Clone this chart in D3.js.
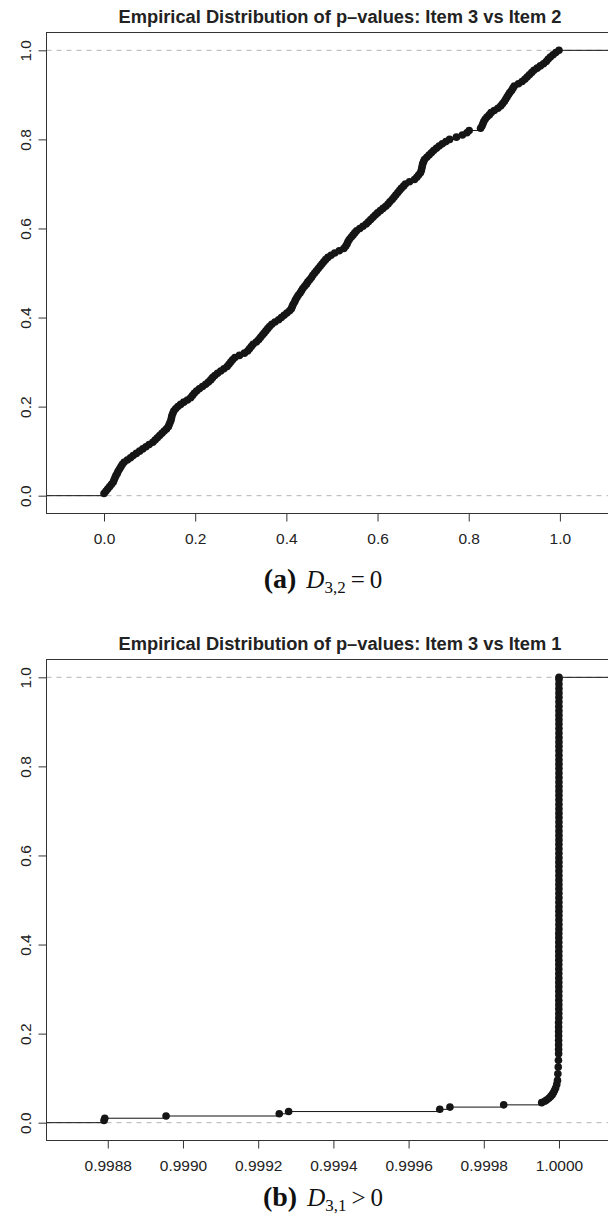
<!DOCTYPE html>
<html><head><meta charset="utf-8">
<script src="https://cdn.jsdelivr.net/npm/d3@7"></script>
<style>body{margin:0;background:#fff} svg{display:block}</style>
</head><body>
<svg id="chart" width="608" height="1222"></svg>
<script>
// ---------- data ----------
const yTicks = [0, 0.2, 0.4, 0.6, 0.8, 1.0];
const xTicks32 = [0, 0.2, 0.4, 0.6, 0.8, 1.0];
const xTicks31 = [0.9988, 0.9990, 0.9992, 0.9994, 0.9996, 0.9998, 1.0000];
const titles = ["Empirical Distribution of p\u2013values: Item 3 vs Item 2",
                "Empirical Distribution of p\u2013values: Item 3 vs Item 1"];
const captionLabels = ["(a)", "(b)"];
const captionSubs = ["3,2", "3,1"];
const captionRels = ["\u2009=\u20090", "\u2009>\u20090"];

// sorted p-values, Item 3 vs Item 2 (ECDF heights k/n)
const p32 = [0.000,0.004,0.008,0.012,0.016,0.020,0.022,0.024,0.026,0.029,
  0.031,0.034,0.037,0.040,0.044,0.051,0.058,0.064,0.071,0.078,
  0.085,0.092,0.099,0.107,0.112,0.117,0.122,0.127,0.132,0.137,
  0.141,0.143,0.145,0.147,0.148,0.149,0.151,0.153,0.157,0.162,
  0.168,0.175,0.183,0.190,0.194,0.198,0.203,0.209,0.216,0.223,
  0.229,0.234,0.238,0.243,0.249,0.256,0.263,0.270,0.274,0.278,
  0.282,0.287,0.297,0.308,0.315,0.319,0.323,0.327,0.334,0.339,
  0.343,0.347,0.351,0.355,0.359,0.363,0.368,0.375,0.383,0.389,
  0.395,0.401,0.407,0.411,0.413,0.415,0.418,0.420,0.423,0.426,
  0.430,0.433,0.436,0.440,0.444,0.447,0.451,0.455,0.458,0.462,
  0.466,0.470,0.474,0.478,0.482,0.486,0.491,0.498,0.506,0.516,
  0.526,0.530,0.533,0.535,0.538,0.542,0.546,0.550,0.554,0.561,
  0.568,0.575,0.580,0.585,0.590,0.595,0.600,0.606,0.612,0.618,
  0.623,0.627,0.632,0.636,0.640,0.644,0.648,0.652,0.657,0.661,
  0.670,0.681,0.686,0.690,0.694,0.696,0.697,0.698,0.699,0.701,
  0.703,0.708,0.713,0.718,0.723,0.729,0.735,0.742,0.750,0.758,
  0.773,0.786,0.796,0.801,0.826,0.829,0.831,0.833,0.836,0.840,
  0.845,0.849,0.856,0.864,0.870,0.874,0.878,0.881,0.884,0.887,
  0.890,0.894,0.897,0.900,0.909,0.917,0.923,0.928,0.933,0.938,
  0.943,0.950,0.957,0.964,0.970,0.974,0.979,0.985,0.991,0.998];

// sorted p-values and ECDF heights, Item 3 vs Item 1
const p31 = [0.998790,0.998792,0.998955,0.999256,0.999281,0.999683,0.999710,0.999853,0.999954,0.999962,
  0.999967,0.999973,0.999978,0.999982,0.999985,0.999988,0.999991,0.999994,0.999996,0.999997,
  0.999998,0.9999985,0.999999,0.999999,0.999999,0.999999,0.999999,0.999999,0.999999,0.999999,
  0.9999995,0.9999995,0.9999995,0.9999995,0.9999995,0.9999995,0.9999995,0.9999995,0.9999995,0.9999995,
  0.9999995,0.9999995,0.9999995,0.9999995,0.9999995,0.9999995,0.9999995,0.9999995,0.9999995,0.9999995,
  0.9999998,0.9999998,0.9999998,0.9999998,0.9999998,0.9999998,0.9999998,0.9999998,0.9999998,0.9999998,
  0.9999998,0.9999998,0.9999998,0.9999998,0.9999998,0.9999998,0.9999998,0.9999998,0.9999998,0.9999998,
  0.9999999,0.9999999,0.9999999,0.9999999,0.9999999,0.9999999,0.9999999,0.9999999,0.9999999,0.9999999,
  0.9999999,0.9999999,0.9999999,0.9999999,0.9999999,0.9999999,0.9999999,0.9999999,0.9999999,0.9999999,
  0.9999999,0.9999999,0.9999999,0.9999999,0.9999999,0.9999999,0.9999999,0.9999999,0.9999999,0.9999999,
  0.9999999,0.9999999,0.9999999,0.9999999,0.9999999,0.9999999,0.9999999,1.0000000];
const F31 = [0.005,0.010,0.015,0.020,0.025,0.030,0.035,0.040,0.045,0.048,
  0.051,0.055,0.059,0.063,0.067,0.072,0.078,0.086,0.095,0.110,
  0.125,0.140,0.155,0.165,0.175,0.185,0.195,0.205,0.215,0.225,
  0.235,0.245,0.255,0.265,0.275,0.285,0.295,0.305,0.315,0.325,
  0.335,0.345,0.355,0.365,0.375,0.385,0.395,0.405,0.415,0.425,
  0.435,0.445,0.455,0.465,0.475,0.485,0.495,0.505,0.515,0.525,
  0.535,0.545,0.555,0.565,0.575,0.585,0.595,0.605,0.615,0.625,
  0.635,0.645,0.655,0.665,0.675,0.685,0.695,0.705,0.715,0.725,
  0.735,0.745,0.755,0.765,0.775,0.785,0.795,0.805,0.815,0.825,
  0.835,0.845,0.855,0.865,0.875,0.885,0.895,0.905,0.915,0.925,
  0.935,0.945,0.955,0.965,0.975,0.985,0.995,1.000];

// ---------- drawing ----------
const svg = d3.select("#chart");
const L = 46.5, R = 616.5, T = 32.5, B = 513.5;
const panelOffsets = [0, 627];
const captionY = [588, 579];
const SANS = "'Liberation Sans', Arial, Helvetica, sans-serif";
const SERIF = "'Liberation Serif', 'Times New Roman', serif";

function ecdfExtent(xs) {
  const lo = d3.min(xs), hi = d3.max(xs);
  const diffs = [];
  for (let i = 1; i < xs.length; i++) diffs.push(xs[i] - xs[i-1]);
  const dr = Math.max(0.08 * (hi - lo), d3.median(diffs));
  const a = lo - dr, b = hi + dr, e = 0.04 * (b - a);
  return [a - e, b + e];
}

function drawPanel(idx, xs, ys, xTicks, fmt) {
  const g = svg.append("g").attr("transform", `translate(0,${panelOffsets[idx]})`);
  const x = d3.scaleLinear().domain(ecdfExtent(xs)).range([L, R]);
  const y = d3.scaleLinear().domain([-0.04, 1.04]).range([B, T]);
  const clipId = "clip" + idx;
  g.append("clipPath").attr("id", clipId).append("rect")
    .attr("x", L).attr("y", T).attr("width", R - L).attr("height", B - T);
  const plot = g.append("g").attr("clip-path", `url(#${clipId})`);

  // reference lines
  plot.selectAll("line.ref").data([0, 1]).join("line").attr("class", "ref")
    .attr("x1", L).attr("x2", R).attr("y1", d => y(d)).attr("y2", d => y(d))
    .attr("stroke", "#b3b3b3").attr("stroke-width", 1).attr("stroke-dasharray", "5,5");

  // step segments
  const xmin = x.domain()[0], xmax = x.domain()[1];
  const segs = [];
  segs.push({x1: xmin, x2: xs[0], y: 0});
  for (let i = 0; i < xs.length; i++) {
    segs.push({x1: xs[i], x2: i + 1 < xs.length ? xs[i+1] : xmax, y: ys[i]});
  }
  plot.selectAll("line.step").data(segs).join("line").attr("class", "step")
    .attr("x1", d => x(d.x1)).attr("x2", d => x(d.x2))
    .attr("y1", d => y(d.y)).attr("y2", d => y(d.y))
    .attr("stroke", "#111").attr("stroke-width", 1);

  // points
  plot.selectAll("circle").data(xs.map((v, i) => [v, ys[i]])).join("circle")
    .attr("cx", d => x(d[0])).attr("cy", d => y(d[1])).attr("r", 3.8)
    .attr("fill", "#151515");

  // box
  g.append("rect").attr("x", L).attr("y", T).attr("width", R - L).attr("height", B - T)
    .attr("fill", "none").attr("stroke", "#333").attr("stroke-width", 1);

  // y axis
  const ya = g.append("g").attr("transform", `translate(${L},0)`)
    .call(d3.axisLeft(y).tickValues(yTicks).tickFormat(d3.format(".1f")).tickSizeOuter(0).tickSize(8).tickPadding(0));
  ya.select(".domain").remove();
  ya.selectAll(".tick line").attr("stroke", "#333");
  ya.selectAll(".tick text").attr("font-family", SANS).attr("font-size", 15.5).attr("fill", "#222")
    .attr("x", 0).attr("dy", 0)
    .attr("transform", "translate(-21,0) rotate(-90)")
    .attr("text-anchor", "middle").attr("dominant-baseline", "central");

  // x axis
  const xa = g.append("g").attr("transform", `translate(0,${B})`)
    .call(d3.axisBottom(x).tickValues(xTicks).tickFormat(d3.format(fmt)).tickSizeOuter(0).tickSize(8).tickPadding(0));
  xa.select(".domain").remove();
  xa.selectAll(".tick line").attr("stroke", "#333");
  xa.selectAll(".tick text").attr("font-family", SANS).attr("font-size", 15.5).attr("fill", "#222")
    .attr("y", 30).attr("dy", 0);

  // title
  g.append("text").attr("x", 340).attr("y", 23).attr("text-anchor", "middle")
    .attr("font-family", SANS).attr("font-weight", "bold").attr("font-size", 18.3)
    .attr("fill", "#222").text(titles[idx]);

  // caption
  const cap = g.append("text").attr("x", 323).attr("y", captionY[idx]).attr("text-anchor", "middle")
    .attr("font-family", SERIF).attr("fill", "#111");
  cap.append("tspan").attr("font-weight", "bold").attr("font-size", 28).text(captionLabels[idx]);
  cap.append("tspan").attr("font-size", 25).attr("font-style", "italic").attr("dx", 10).text("D");
  cap.append("tspan").attr("font-size", 17).attr("dy", 5).text(captionSubs[idx]);
  cap.append("tspan").attr("font-size", 25).attr("dy", -5).text(captionRels[idx]);
}

drawPanel(0, p32, p32.map((v, i) => (i + 1) / p32.length), xTicks32, ".1f");
drawPanel(1, p31, F31, xTicks31, ".4f");
</script>
</body></html>
